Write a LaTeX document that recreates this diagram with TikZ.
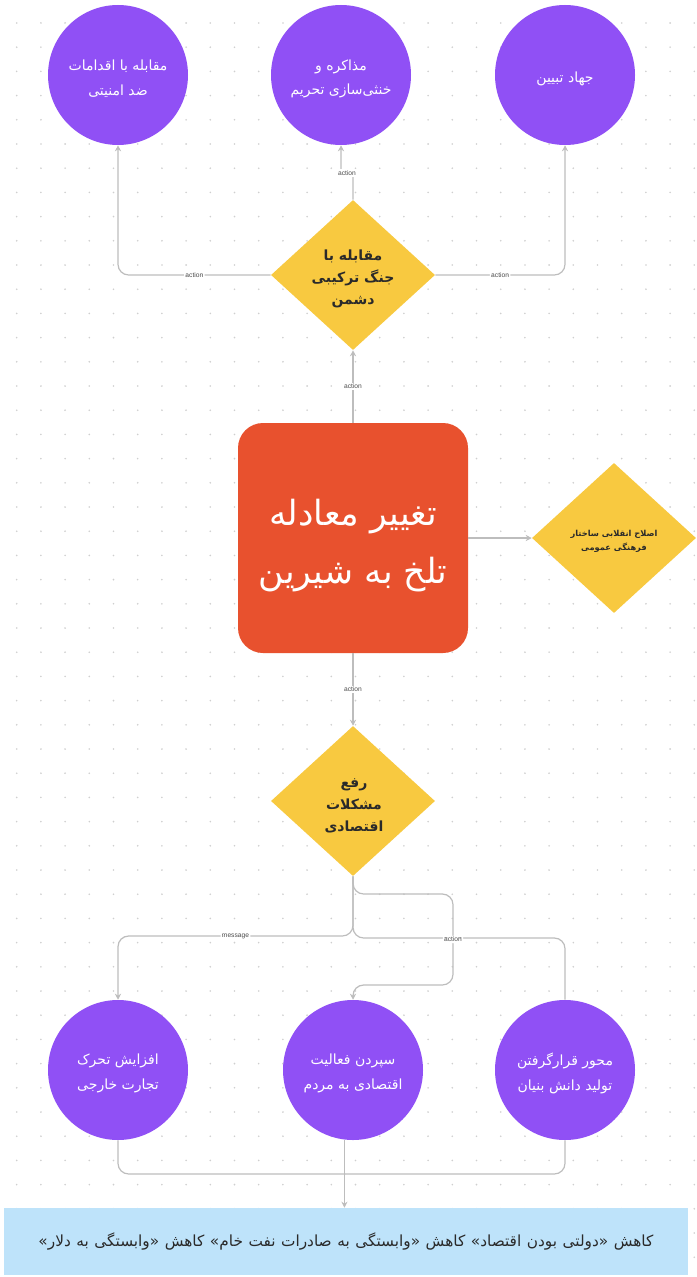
\documentclass[tikz,border=0pt]{standalone}
\usepackage{fontspec}
\usetikzlibrary{shapes.geometric,arrows.meta}
\TeXXeTstate=1
\newfontfamily\fafont[Script=Arabic]{DejaVu Sans}
\newfontfamily\lblfont{Liberation Sans}
\newlength\pxu
\setlength\pxu{0.75pt}
\newcommand\rtltext[1]{\beginR #1\endR}
\definecolor{purp}{HTML}{9050F5}
\definecolor{yel}{HTML}{F8C940}
\definecolor{orng}{HTML}{E8512E}
\definecolor{lblue}{HTML}{BEE3FA}
\definecolor{connc}{HTML}{BDBDBD}
\definecolor{dotc}{HTML}{CFCFCF}
\definecolor{darktxt}{HTML}{2A2A2A}
\tikzset{
  circ/.style={circle, fill=purp, minimum size=140\pxu, inner sep=0pt},
  ctxt/.style={inner sep=0pt, text=white, align=center, font=\fafont\fontsize{10.5}{18.5}\selectfont},
  dia/.style={diamond, fill=yel, minimum width=164\pxu, minimum height=150\pxu, inner sep=0pt},
  dtxt/.style={inner sep=0pt, text=darktxt, align=center, font=\fafont\bfseries\fontsize{10.5}{16.5}\selectfont},
  mainbox/.style={rectangle, rounded corners=25\pxu, fill=orng, minimum width=230\pxu, minimum height=230\pxu},
  mtxt/.style={inner sep=0pt, text=white, align=center, font=\fafont\fontsize{26}{43}\selectfont},
  conn/.style={draw=connc, line width=0.9pt},
  arr/.style={-{Stealth[length=4.5pt,width=4.5pt]}},
  lbl/.style={fill=white, inner sep=1pt, text=black!70, font=\lblfont\fontsize{5}{6}\selectfont},
  barbox/.style={rectangle, fill=lblue, minimum width=684\pxu, minimum height=67\pxu, inner sep=0pt,
    text=darktxt, font=\fafont\fontsize{11.5}{14}\selectfont}
}
\begin{document}
\begin{tikzpicture}[x=0.75pt,y=-0.75pt]
\useasboundingbox (0,0) rectangle (696,1277);
\fill[white] (0,0) rectangle (696,1277);
% dot grid
\foreach \i in {0,...,28}{
  \foreach \j in {0,...,52}{
    \fill[dotc] ({16.7+24.2*\i},{23+24.2*\j}) circle (0.9);
  }
}
% shapes
\node[circ] (c1) at (118,75) {};
\node[circ] (c2) at (341,75) {};
\node[circ] (c3) at (565,75) {};
\node[dia] (d1) at (353,275) {};
\node[mainbox] (main) at (353,538) {};
\node[dia] (d2) at (614,538) {};
\node[dia] (d3) at (353,801) {};
\node[circ] (c4) at (118,1070) {};
\node[circ] (c5) at (353,1070) {};
\node[circ] (c6) at (565,1070) {};
% texts
\node[ctxt] (c1t) at (118,79) {\rtltext{مقابله با اقدامات}\\\rtltext{ضد امنیتی}};
\node[ctxt] (c2t) at (341,79) {\rtltext{مذاکره و}\\\rtltext{خنثی‌سازی تحریم}};
\node[ctxt] (c3t) at (565,78.5) {\rtltext{جهاد تبیین}};
\node[dtxt] (d1t) at (353,278.5) {\rtltext{مقابله با}\\\rtltext{جنگ ترکیبی}\\\rtltext{دشمن}};
\node[mtxt] (mt) at (353,545.5) {\rtltext{تغییر معادله}\\\rtltext{تلخ به شیرین}};
\node[dtxt, font=\fafont\bfseries\fontsize{6.2}{11}\selectfont] (d2t) at (614,541.5) {\rtltext{اصلاح انقلابی ساختار}\\\rtltext{فرهنگی عمومی}};
\node[dtxt] (d3t) at (354,806) {\rtltext{رفع}\\\rtltext{مشکلات}\\\rtltext{اقتصادی}};
\node[ctxt] (c4t) at (118,1073.5) {\rtltext{افزایش تحرک}\\\rtltext{تجارت خارجی}};
\node[ctxt] (c5t) at (353,1073.5) {\rtltext{سپردن فعالیت}\\\rtltext{اقتصادی به مردم}};
\node[ctxt] (c6t) at (565,1073.5) {\rtltext{محور قرارگرفتن}\\\rtltext{تولید دانش بنیان}};
\node[barbox] (bar) at (346,1241.5) {\makebox[615\pxu][s]{\beginR کاهش «دولتی بودن اقتصاد» کاهش «وابستگی به صادرات نفت خام» کاهش «وابستگی به دلار»\endR}};
\coordinate (m) at (345,1174);
% connectors top
\draw[conn,arr,rounded corners=8] (d1.west) -| (c1.south) node[lbl,pos=0.25]{action};
\draw[conn,arr,rounded corners=8] (d1.east) -| (c3.south) node[lbl,pos=0.25]{action};
\draw[conn,arr] (d1.north) -- (353,176) -- (341,170) -- (c2.south);
\node[lbl] (l1) at (347,173) {action};
\draw[conn,arr] (main.north) -- (d1.south) node[lbl,midway]{action};
\draw[conn,arr] (main.east) -- (d2.west);
\draw[conn,arr] (main.south) -- (d3.north) node[lbl,midway]{action};
% connectors bottom
\draw[conn,arr,rounded corners=8] (d3.south) |- (c4.north |- 0,936) node[lbl,pos=0.75]{message} -- (c4.north);
\draw[conn,rounded corners=8] (d3.south) |- (c6.north |- 0,938) -- (c6.north);
\draw[conn,arr,rounded corners=8] (d3.south) |- (453,894) -- (453,985) node[lbl,pos=0.5]{action} -| (c5.north);
\draw[conn,rounded corners=8] (c4.south) |- (m);
\draw[conn,rounded corners=8] (c6.south) |- (m);
\draw[conn,arr] (c5.263) -- (c5.263 |- bar.north);
\end{tikzpicture}
\end{document}
